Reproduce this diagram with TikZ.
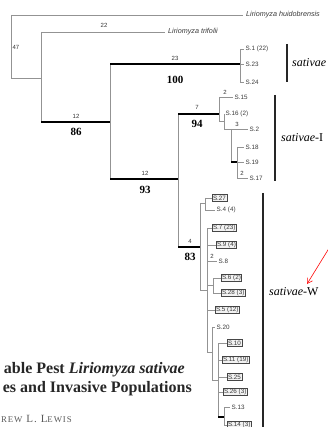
\documentclass[tikz,border=0pt]{standalone}
\usepackage{fontspec}
\setmainfont{Liberation Serif}
\setsansfont{Liberation Sans}
\usetikzlibrary{arrows.meta}
\begin{document}
\begin{tikzpicture}[x=1pt,y=-1pt,
  br/.style={draw=gray!85,line width=0.6pt},
  thk/.style={draw=black,line width=2.3pt},
  lf/.style={anchor=west,inner sep=1.5pt,text=gray!45!black,font=\fontsize{6.3}{7}\selectfont\sffamily},
  bx/.style={lf,draw=gray!55!black,line width=0.9pt,fill=gray!10,inner sep=1pt,outer sep=0pt},
  spn/.style={anchor=west,inner sep=3pt,text=gray!45!black,font=\fontsize{7.2}{8}\selectfont\sffamily\itshape},
  blen/.style={inner sep=0pt,text=gray!40!black,font=\fontsize{6}{7}\selectfont\sffamily},
  boot/.style={inner sep=0pt,font=\fontsize{11}{12}\selectfont\bfseries},
  bar/.style={draw=black!85,line width=2pt},
  clade/.style={anchor=west,inner sep=0pt,font=\fontsize{12}{14}\selectfont},
  ttl/.style={anchor=base east,inner sep=0pt,text=black!85,font=\fontsize{16}{18}\selectfont\bfseries}]
\useasboundingbox (0,0) rectangle (328,427);
\clip (0,0) rectangle (328,427);
% internal nodes
\coordinate (R) at (11,78);
\coordinate (A) at (41,78);
\coordinate (B) at (110,122);
\coordinate (C) at (240,64);
\coordinate (D) at (178,179);
\coordinate (E) at (219,114);
\coordinate (F) at (224,121);
\coordinate (G) at (231,129);
\coordinate (H) at (237,162);
\coordinate (I) at (200,247);
\coordinate (K) at (205,203);
\coordinate (J) at (207,290);
\coordinate (L) at (213,285);
\coordinate (M) at (212,352);
\coordinate (N) at (218,380);
\coordinate (O) at (224,417);
% leaves
\node[spn] (huid) at (243,15) {Liriomyza huidobrensis};
\node[spn] (trif) at (165,32) {Liriomyza trifolii};
\node[lf] (s1) at (244,49) {S.1 (22)};
\node[lf] (s23) at (244,64) {S.23};
\node[lf] (s24) at (244,82) {S.24};
\node[lf] (s15) at (233,97) {S.15};
\node[lf] (s16) at (224,114) {S.16 (2)};
\node[lf] (s2) at (248,129) {S.2};
\node[lf] (s18) at (244,147) {S.18};
\node[lf] (s19) at (244,162) {S.19};
\node[lf] (s17) at (248,178) {S.17};
\node[bx] (s27) at (212,198) {S.27};
\node[lf] (s4) at (215,210) {S.4 (4)};
\node[bx] (s7) at (212,228) {S.7 (23)};
\node[bx] (s9) at (216,245) {S.9 (4)};
\node[lf] (s8) at (217,261) {S.8};
\node[bx] (s6) at (221,278) {S.6 (2)};
\node[bx] (s28) at (221,293) {S.28 (3)};
\node[bx] (s5) at (215,310) {S.5 (12)};
\node[lf] (s20) at (215,327) {S.20};
\node[bx] (s10) at (227,343) {S.10};
\node[bx] (s11) at (222,360) {S.11 (19)};
\node[bx] (s25) at (227,377) {S.25};
\node[bx] (s26) at (223,392) {S.26 (3)};
\node[lf] (s13) at (230,407) {S.13};
\node[bx] (s14) at (227,425) {S.14 (3)};
% verticals
\draw[br] (R |- huid.west) -- (R);
\draw[br] (A |- trif.west) -- (A |- B);
\draw[br] (B |- C) -- (B |- D);
\draw[br] (C |- s1.west) -- (C |- s24.west);
\draw[br] (D |- E) -- (D |- I);
\draw[br] (E |- s15.west) -- (E |- F);
\draw[br] (F |- s16.west) -- (F |- G);
\draw[br] (G) -- (G |- H);
\draw[br] (H |- s18.west) -- (H |- s17.west);
\draw[br] (I |- K) -- (I |- J);
\draw[br] (K |- s27.west) -- (K |- s4.west);
\draw[br] (J |- s7.west) -- (J |- M);
\draw[br] (L |- s6.west) -- (L |- s28.west);
\draw[br] (M |- s20.west) -- (M |- N);
\draw[br] (N |- s10.west) -- (N |- O);
\draw[br] (O |- s13.west) -- (O |- s14.west);
% horizontals
\draw[br] (R |- huid.west) -- (huid.west);
\draw[br] (R) -- (A);
\draw[br] (A |- trif.west) -- (trif.west);
\draw[thk] (A |- B) -- (B);
\draw[thk] (B |- C) -- (C);
\draw[thk] (B |- D) -- (D);
\draw[br] (C |- s1.west) -- (s1.west);
\draw[br] (C) -- (s23.west);
\draw[br] (C |- s24.west) -- (s24.west);
\draw[thk] (D |- E) -- (E);
\draw[thk] (D |- I) -- (I);
\draw[br] (E |- s15.west) -- (s15.west);
\draw[br] (E |- F) -- (F);
\draw[br] (F |- G) -- (G);
\draw[br] (G) -- (s2.west);
\draw[thk] (G |- H) -- (H);
\draw[br] (H |- s18.west) -- (s18.west);
\draw[br] (H) -- (s19.west);
\draw[br] (H |- s17.west) -- (s17.west);
\draw[br] (I |- K) -- (K);
\draw[br] (I |- J) -- (J);
\draw[br] (K |- s27.west) -- (s27.west);
\draw[br] (K |- s4.west) -- (s4.west);
\draw[br] (J |- s7.west) -- (s7.west);
\draw[br] (J |- s9.west) -- (s9.west);
\draw[br] (J |- s8.west) -- (s8.west);
\draw[br] (J |- L) -- (L);
\draw[br] (J |- s5.west) -- (s5.west);
\draw[br] (J |- M) -- (M);
\draw[br] (L |- s6.west) -- (s6.west);
\draw[br] (L |- s28.west) -- (s28.west);
\draw[br] (M |- s20.west) -- (s20.west);
\draw[br] (M |- N) -- (N);
\draw[br] (N |- s10.west) -- (s10.west);
\draw[br] (N |- s11.west) -- (s11.west);
\draw[br] (N |- s25.west) -- (s25.west);
\draw[br] (N |- s26.west) -- (s26.west);
\draw[thk] (N |- O) -- (O);
\draw[br] (O |- s13.west) -- (s13.west);
\draw[br] (O |- s14.west) -- (s14.west);
% branch lengths
\node[blen] (l47) at (16,47) {47};
\node[blen] (l22) at (104,25) {22};
\node[blen] (l12a) at (76,116) {12};
\node[blen] (l23) at (175,58) {23};
\node[blen] (l12b) at (145,173) {12};
\node[blen] (l7) at (197,107) {7};
\node[blen] (l2a) at (225,92) {2};
\node[blen] (l3) at (237,124) {3};
\node[blen] (l2b) at (242,173) {2};
\node[blen] (l4) at (190,241) {4};
\node[blen] (l2c) at (212,256) {2};
% bootstrap
\node[boot] (b86) at (76,132) {86};
\node[boot] (b100) at (175,80) {100};
\node[boot] (b93) at (145,190) {93};
\node[boot] (b94) at (197,124) {94};
\node[boot] (b83) at (190,257) {83};
% clade bars
\coordinate (c1t) at (287,44); \coordinate (c1b) at (287,82);
\coordinate (c2t) at (275,95); \coordinate (c2b) at (275,181);
\coordinate (c3t) at (263,193); \coordinate (c3b) at (263,432);
\draw[bar] (c1t) -- (c1b);
\draw[bar] (c2t) -- (c2b);
\draw[bar] (c3t) -- (c3b);
\node[clade] (k1) at (292,63) {\textit{sativae}};
\node[clade] (k2) at (281,138) {\textit{sativae}-I};
\node[clade] (k3) at (269,292) {\textit{sativae}-W};
% red arrow
\coordinate (arS) at (331,245);
\coordinate (arT) at (307,284);
\draw[red,line width=0.6pt,-{Straight Barb[length=5pt,width=6pt]}] (arS) -- (arT);
% background title text
\node[ttl] (t1) at (185,373) {able Pest \textit{Liriomyza sativae}};
\node[ttl] (t2) at (192,392) {es and Invasive Populations};
\node[anchor=base west,inner sep=0pt,text=gray!70!black,font=\fontsize{11}{12}\selectfont\addfontfeature{LetterSpace=10}] (t3) at (1,422) {{\fontsize{8.8}{10}\selectfont\addfontfeature{LetterSpace=10}REW} L. L{\fontsize{8.8}{10}\selectfont\addfontfeature{LetterSpace=10}EWIS}};
\end{tikzpicture}
\end{document}
